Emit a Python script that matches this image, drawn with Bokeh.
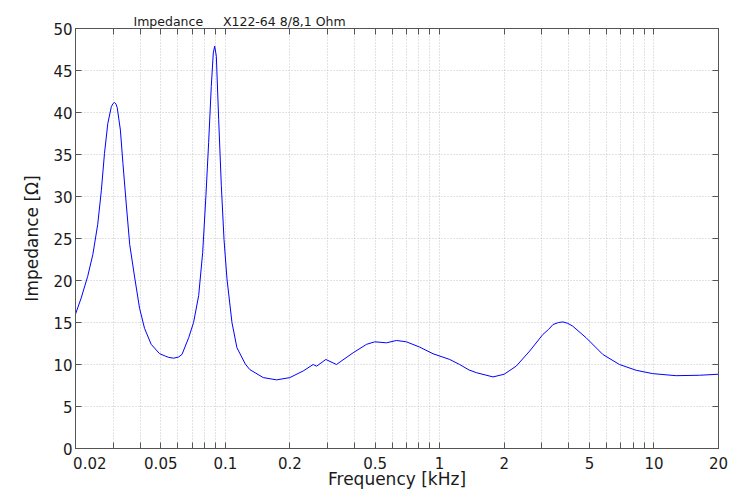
from bokeh.plotting import figure
from bokeh.models import Range1d, FixedTicker, LinearAxis, LogAxis
from bokeh.embed import file_html
from bokeh.resources import INLINE

# ---- data ----
freq_khz = [0.02, 0.02125, 0.0228, 0.0241, 0.0254, 0.0264, 0.0273, 0.0283, 0.0294, 0.0299,
            0.0304, 0.0309, 0.0313, 0.0324, 0.0333, 0.0345, 0.0358, 0.0378, 0.0398, 0.042,
            0.0451, 0.0493, 0.0525, 0.0544, 0.0574, 0.0606, 0.0628, 0.0675, 0.0711, 0.0751,
            0.0784, 0.0812, 0.0836, 0.086, 0.0879, 0.0892, 0.0908, 0.0931, 0.0958, 0.0986,
            0.1018, 0.1074, 0.1133, 0.124, 0.13, 0.1503, 0.1736, 0.2, 0.2309, 0.257,
            0.2667, 0.2945, 0.33, 0.395, 0.456, 0.498, 0.565, 0.629, 0.70, 0.807,
            0.931, 1.114, 1.24, 1.371, 1.483, 1.774, 2.0, 2.28, 2.63, 3.03,
            3.22, 3.38, 3.59, 3.76, 3.96, 4.18, 4.83, 5.77, 6.9, 8.26,
            9.87, 12.68, 16.3, 20.0]
impedance_ohm = [16.0, 17.9, 20.5, 23.1, 26.7, 30.7, 35.1, 38.7, 40.7, 41.05,
                 41.2, 41.0, 40.6, 37.9, 33.9, 29.1, 24.3, 20.3, 16.7, 14.3,
                 12.4, 11.3, 11.0, 10.85, 10.75, 10.9, 11.2, 13.2, 15.0, 18.2,
                 23.3, 30.1, 36.4, 43.1, 47.1, 47.9, 46.7, 39.2, 31.3, 24.9,
                 20.2, 15.0, 12.0, 10.05, 9.4, 8.44, 8.17, 8.44, 9.23, 10.0,
                 9.8, 10.6, 10.0, 11.4, 12.4, 12.7, 12.58, 12.86, 12.7, 12.07,
                 11.28, 10.6, 10.0, 9.35, 9.03, 8.52, 8.84, 9.82, 11.6, 13.57,
                 14.17, 14.76, 15.0, 15.07, 14.9, 14.56, 13.17, 11.2, 10.0, 9.31,
                 8.91, 8.67, 8.72, 8.84]

xtick_values = [0.02, 0.05, 0.1, 0.2, 0.5, 1, 2, 5, 10, 20]
xtick_labels = ["0.02", "0.05", "0.1", "0.2", "0.5", "1", "2", "5", "10", "20"]
ytick_values = [0, 5, 10, 15, 20, 25, 30, 35, 40, 45, 50]
title_text = "Impedance" + "\u00a0" * 5 + "X122-64 8/8,1 Ohm"
x_label = "Frequency [kHz]"
y_label = "Impedance [Ω]"

FONT = "DejaVu Sans"
AX = "#555555"
TXT = "#1a1a1a"
GRID = "#c4c4c4"

# all 1..9 multiples (tick marks + grid lines)
all_x = []
for e in range(-2, 2):
    for m in range(1, 10):
        v = round(m * 10 ** e, 6)
        if 0.02 <= v <= 20:
            all_x.append(v)
all_x.append(20.0)
all_x = sorted(set(all_x))

label_map = {float(v): s for v, s in zip(xtick_values, xtick_labels)}
x_over = {}
for v in all_x:
    s = label_map.get(float(v), "")
    if abs(v - 0.02) < 1e-9:
        # the reference draws the first label shifted right, flush with the frame
        s = "\u00a0" * 6 + s
    x_over[v] = s

xticker = FixedTicker(ticks=all_x)
yticker = FixedTicker(ticks=ytick_values)

p = figure(width=745, height=493, x_axis_type="log",
           x_range=Range1d(0.02, 20), y_range=Range1d(0, 50),
           output_backend="svg", toolbar_location=None,
           min_border_left=75, min_border_right=27,
           min_border_top=28, min_border_bottom=45)
p.background_fill_color = "white"
p.border_fill_color = "white"
p.outline_line_color = AX
p.outline_line_width = 1

p.title.text = title_text
p.title.align = "left"
p.title.offset = 58
p.title.text_font = FONT
p.title.text_font_size = "12.5px"
p.title.text_font_style = "normal"
p.title.text_color = TXT
p.title.standoff = 0

p.line(freq_khz, impedance_ohm, line_color="#0000ff", line_width=1)

# bottom axis
xa = p.xaxis[0]
xa.ticker = xticker
xa.major_label_overrides = x_over
xa.major_tick_in = 6
xa.major_tick_out = 0
xa.minor_tick_line_color = None
xa.major_tick_line_color = AX
xa.axis_line_color = AX
xa.major_label_text_font = FONT
xa.major_label_text_font_size = "15px"
xa.major_label_text_color = TXT
xa.major_label_standoff = 6
xa.axis_label = x_label
xa.axis_label_text_font = FONT
xa.axis_label_text_font_size = "17px"
xa.axis_label_text_font_style = "normal"
xa.axis_label_text_color = TXT
xa.axis_label_standoff = -7

# left axis
ya = p.yaxis[0]
ya.ticker = yticker
ya.major_tick_in = 6
ya.major_tick_out = 0
ya.minor_tick_line_color = None
ya.major_tick_line_color = AX
ya.axis_line_color = AX
ya.major_label_text_font = FONT
ya.major_label_text_font_size = "15px"
ya.major_label_text_color = TXT
ya.major_label_standoff = 3
ya.axis_label = y_label
ya.axis_label_text_font = FONT
ya.axis_label_text_font_size = "17px"
ya.axis_label_text_font_style = "normal"
ya.axis_label_text_color = TXT
ya.axis_label_standoff = 8

# box ticks on top and right
top = LogAxis(ticker=xticker, major_label_overrides={v: "" for v in all_x},
              major_tick_in=6, major_tick_out=0, minor_tick_line_color=None,
              major_tick_line_color=AX, axis_line_color=AX,
              major_label_text_font_size="1px", major_label_standoff=0)
p.add_layout(top, "above")
right = LinearAxis(ticker=yticker, major_label_overrides={v: "" for v in ytick_values},
                   major_tick_in=6, major_tick_out=0, minor_tick_line_color=None,
                   major_tick_line_color=AX, axis_line_color=AX,
                   major_label_text_font_size="1px", major_label_standoff=0)
p.add_layout(right, "right")

# grids
p.xgrid.ticker = xticker
p.ygrid.ticker = yticker
for g in (p.xgrid[0], p.ygrid[0]):
    g.grid_line_color = GRID
    g.grid_line_dash = "1 2"
    g.grid_line_width = 1

open("out.html", "w").write(file_html(p, INLINE))
